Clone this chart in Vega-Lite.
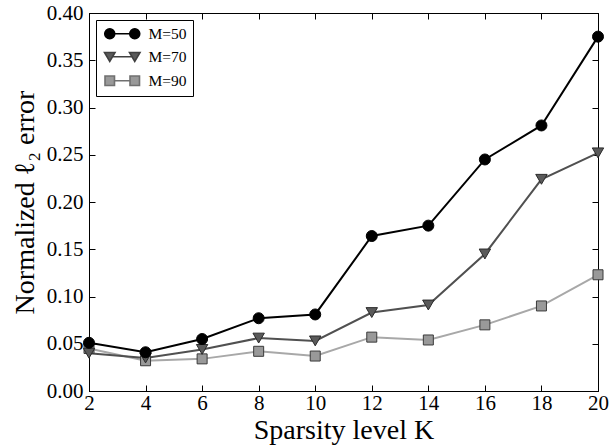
{
  "$schema": "https://vega.github.io/schema/vega-lite/v6.json",
  "width": 509,
  "height": 378,
  "autosize": "none",
  "padding": {"left": 89, "top": 13, "right": 12, "bottom": 57},
  "background": "white",
  "config": {
    "view": {"stroke": "#000", "strokeWidth": 1},
    "axis": {
      "grid": false,
      "domainColor": "#000",
      "tickColor": "#000",
      "tickSize": -6,
      "tickWidth": 1,
      "labelFlush": false,
      "labelFont": "Liberation Serif",
      "labelFontSize": 21,
      "labelColor": "#000",
      "titleFont": "Liberation Serif",
      "titleFontSize": 28,
      "titleFontWeight": "normal",
      "titleColor": "#000"
    },
    "legend": {
      "strokeColor": "#000",
      "fillColor": "white",
      "padding": 6,
      "labelFont": "Liberation Serif",
      "labelFontSize": 15.5,
      "labelColor": "#000"
    }
  },
  "data": {
    "values": [
      {"K": 2, "M": "M=50", "err": 0.051},
      {"K": 4, "M": "M=50", "err": 0.041},
      {"K": 6, "M": "M=50", "err": 0.055},
      {"K": 8, "M": "M=50", "err": 0.077},
      {"K": 10, "M": "M=50", "err": 0.081},
      {"K": 12, "M": "M=50", "err": 0.164},
      {"K": 14, "M": "M=50", "err": 0.175},
      {"K": 16, "M": "M=50", "err": 0.245},
      {"K": 18, "M": "M=50", "err": 0.281},
      {"K": 20, "M": "M=50", "err": 0.375},
      {"K": 2, "M": "M=70", "err": 0.040},
      {"K": 4, "M": "M=70", "err": 0.035},
      {"K": 6, "M": "M=70", "err": 0.044},
      {"K": 8, "M": "M=70", "err": 0.056},
      {"K": 10, "M": "M=70", "err": 0.053},
      {"K": 12, "M": "M=70", "err": 0.083},
      {"K": 14, "M": "M=70", "err": 0.091},
      {"K": 16, "M": "M=70", "err": 0.145},
      {"K": 18, "M": "M=70", "err": 0.224},
      {"K": 20, "M": "M=70", "err": 0.252},
      {"K": 2, "M": "M=90", "err": 0.045},
      {"K": 4, "M": "M=90", "err": 0.032},
      {"K": 6, "M": "M=90", "err": 0.034},
      {"K": 8, "M": "M=90", "err": 0.042},
      {"K": 10, "M": "M=90", "err": 0.037},
      {"K": 12, "M": "M=90", "err": 0.057},
      {"K": 14, "M": "M=90", "err": 0.054},
      {"K": 16, "M": "M=90", "err": 0.070},
      {"K": 18, "M": "M=90", "err": 0.090},
      {"K": 20, "M": "M=90", "err": 0.123}
    ]
  },
  "resolve": {"axis": {"x": "independent", "y": "independent"}},
  "layer": [
    {
      "transform": [{"filter": "datum.M == 'M=90'"}],
      "mark": {"type": "line", "strokeWidth": 2, "stroke": "#a8a8a8"},
      "encoding": {
        "x": {"field": "K", "type": "quantitative", "scale": {"domain": [2, 20], "nice": false, "zero": false},
              "axis": {"orient": "bottom", "values": [2,4,6,8,10,12,14,16,18,20], "title": "Sparsity level K", "labelPadding": 7, "titlePadding": 3}},
        "y": {"field": "err", "type": "quantitative", "scale": {"domain": [0, 0.4], "nice": false},
              "axis": {"orient": "left", "values": [0,0.05,0.1,0.15,0.2,0.25,0.3,0.35,0.4], "format": ".2f", "title": "Normalized ℓ₂ error", "labelPadding": 12, "titlePadding": 7}}
      }
    },
    {
      "transform": [{"filter": "datum.M == 'M=70'"}],
      "mark": {"type": "line", "strokeWidth": 2, "stroke": "#505050"},
      "encoding": {
        "x": {"field": "K", "type": "quantitative", "axis": null},
        "y": {"field": "err", "type": "quantitative", "axis": null}
      }
    },
    {
      "transform": [{"filter": "datum.M == 'M=50'"}],
      "mark": {"type": "line", "strokeWidth": 2, "stroke": "#000000"},
      "encoding": {
        "x": {"field": "K", "type": "quantitative", "axis": null},
        "y": {"field": "err", "type": "quantitative", "axis": null}
      }
    },
    {
      "transform": [{"filter": "datum.M == 'M=90'"}],
      "mark": {"type": "point", "shape": "square", "filled": true, "fill": "#999999", "stroke": "#3a3a3a", "strokeWidth": 1, "size": 100, "opacity": 1},
      "encoding": {
        "x": {"field": "K", "type": "quantitative", "axis": null},
        "y": {"field": "err", "type": "quantitative", "axis": null}
      }
    },
    {
      "transform": [{"filter": "datum.M == 'M=70'"}],
      "mark": {"type": "point", "shape": "triangle-down", "filled": true, "fill": "#5a5a5a", "stroke": "#2a2a2a", "strokeWidth": 1, "size": 130, "opacity": 1},
      "encoding": {
        "x": {"field": "K", "type": "quantitative", "axis": null},
        "y": {"field": "err", "type": "quantitative", "axis": null}
      }
    },
    {
      "transform": [{"filter": "datum.M == 'M=50'"}],
      "mark": {"type": "point", "shape": "circle", "filled": true, "fill": "#000000", "stroke": "#000000", "strokeWidth": 1, "size": 121, "opacity": 1},
      "encoding": {
        "x": {"field": "K", "type": "quantitative", "axis": null},
        "y": {"field": "err", "type": "quantitative", "axis": null}
      }
    },
    {
      "mark": {"type": "point", "filled": true, "size": 0, "opacity": 1},
      "encoding": {
        "x": {"field": "K", "type": "quantitative",
              "axis": {"orient": "top", "values": [2,4,6,8,10,12,14,16,18,20], "labels": false, "title": null}},
        "y": {"field": "err", "type": "quantitative",
              "axis": {"orient": "right", "values": [0,0.05,0.1,0.15,0.2,0.25,0.3,0.35,0.4], "labels": false, "title": null}},
        "shape": {"field": "M", "type": "nominal",
                  "scale": {"domain": ["M=50","M=70","M=90"],
                            "range": [
                              "M -1 0 C -1 -0.552 -0.552 -1 0 -1 C 0.552 -1 1 -0.552 1 0 C 1 0.552 0.552 1 0 1 C -0.552 1 -1 0.552 -1 0 Z M 4 0 C 4 -0.552 4.448 -1 5 -1 C 5.552 -1 6 -0.552 6 0 C 6 0.552 5.552 1 5 1 C 4.448 1 4 0.552 4 0 Z M 1 0 L 4 0",
                              "M -1.05 -0.85 L 1.05 -0.85 L 0 0.95 Z M 3.95 -0.85 L 6.05 -0.85 L 5 0.95 Z M 0.5 0 L 4.5 0",
                              "M -0.95 -0.95 L 0.95 -0.95 L 0.95 0.95 L -0.95 0.95 Z M 4.05 -0.95 L 5.95 -0.95 L 5.95 0.95 L 4.05 0.95 Z M 0.95 0 L 4.05 0"
                            ]},
                  "legend": {"title": null, "orient": "top-left", "offset": 7, "symbolSize": 100, "symbolStrokeWidth": 1.6, "symbolOpacity": 1, "labelOffset": 31, "rowPadding": 6}},
        "fill": {"field": "M", "type": "nominal",
                 "scale": {"domain": ["M=50","M=70","M=90"], "range": ["#000000","#5a5a5a","#999999"]},
                 "legend": {"title": null, "orient": "top-left", "offset": 7, "symbolSize": 100, "symbolStrokeWidth": 1.6, "symbolOpacity": 1, "labelOffset": 31, "rowPadding": 6}},
        "stroke": {"field": "M", "type": "nominal",
                   "scale": {"domain": ["M=50","M=70","M=90"], "range": ["#000000","#404040","#707070"]},
                   "legend": {"title": null, "orient": "top-left", "offset": 7, "symbolSize": 100, "symbolStrokeWidth": 1.6, "symbolOpacity": 1, "labelOffset": 31, "rowPadding": 6}}
      }
    }
  ]
}
